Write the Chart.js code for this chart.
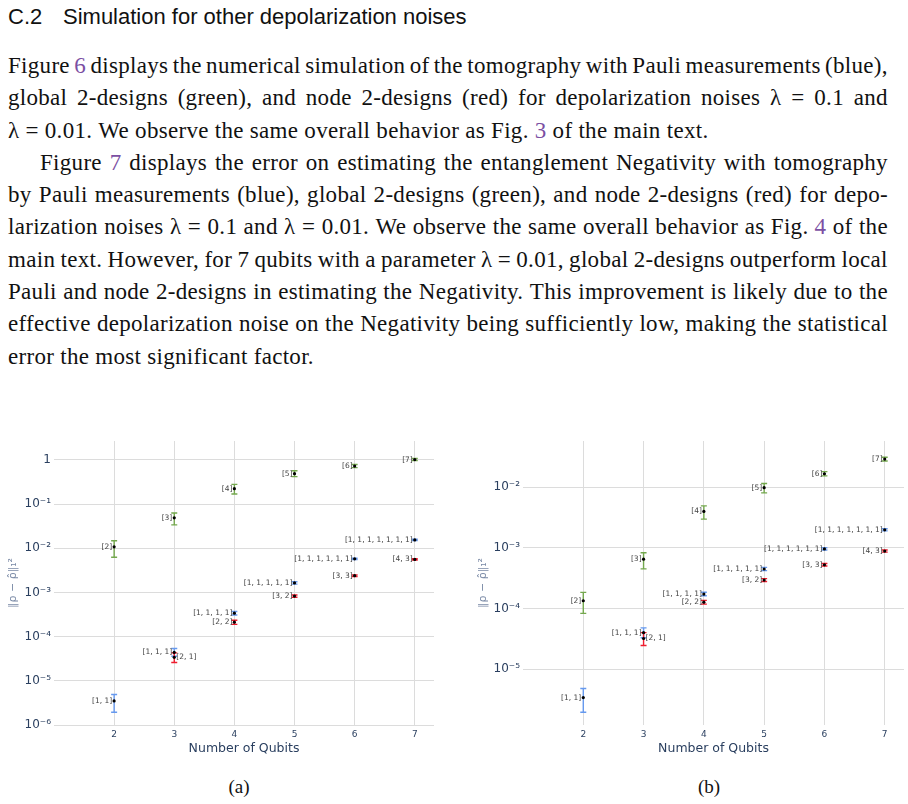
<!DOCTYPE html>
<html>
<head>
<meta charset="utf-8">
<script src="https://cdn.jsdelivr.net/npm/chart.js@4.4.1/dist/chart.umd.min.js"></script>
<style>
  html, body { margin: 0; padding: 0; background: #fff; }
  body { width: 908px; height: 804px; position: relative; overflow: hidden; }
  h3 { position: absolute; left: 8px; top: 4px; margin: 0; font: 400 22px 'Liberation Sans', sans-serif; color: #111; }
  h3 span { display: inline-block; width: 55px; }
  #text { position: absolute; left: 8px; top: 50px; width: 880px; font: 23px 'Liberation Serif', serif; letter-spacing: 0.3px; color: #111; line-height: 32.3px; }
  .ln { display: flex; justify-content: space-between; white-space: nowrap; height: 32.3px; }
  .ln.last { display: block; }
  .ind { padding-left: 32px; }
  .ref { color: #7b4fa3; }
  canvas { position: absolute; top: 436px; }
  .cap { position: absolute; top: 776px; width: 100px; text-align: center; font: 19px 'Liberation Serif', serif; color: #111; }
</style>
</head>
<body>
<h3><span>C.2</span>Simulation for other depolarization noises</h3>
<div id="text"></div>
<canvas id="chartA" width="460" height="330" style="left:0px"></canvas>
<canvas id="chartB" width="448" height="330" style="left:460px"></canvas>
<div class="cap" style="left:189px">(a)</div>
<div class="cap" style="left:659px">(b)</div>
<script>
// Texte : une ligne par entrée, j = justifiée, l = dernière ligne, i = retrait
const lines = [
  ['j', 'Figure {6} displays the numerical simulation of the tomography with Pauli measurements (blue),'],
  ['j', 'global 2-designs (green), and node 2-designs (red) for depolarization noises λ = 0.1 and'],
  ['l', 'λ = 0.01. We observe the same overall behavior as Fig.\u00a0{3} of the main text.'],
  ['ji', 'Figure {7} displays the error on estimating the entanglement Negativity with tomography'],
  ['j', 'by Pauli measurements (blue), global 2-designs (green), and node 2-designs (red) for depo-'],
  ['j', 'larization noises λ = 0.1 and λ = 0.01. We observe the same overall behavior as Fig.\u00a0{4} of the'],
  ['j', 'main text. However, for 7 qubits with a parameter λ = 0.01, global 2-designs outperform local'],
  ['j', 'Pauli and node 2-designs in estimating the Negativity. This improvement is likely due to the'],
  ['j', 'effective depolarization noise on the Negativity being sufficiently low, making the statistical'],
  ['l', 'error the most significant factor.']
];
const textBox = document.getElementById('text');
lines.forEach(([kind, str]) => {
  const div = document.createElement('div');
  div.className = 'ln' + (kind.includes('l') ? ' last' : '') + (kind.includes('i') ? ' ind' : '');
  const html = w => w.replace(/\{(\d)\}/g, '<span class="ref">$1</span>');
  if (kind.includes('l')) {
    div.innerHTML = html(str);
  } else {
    div.innerHTML = str.split(' ').map(w => '<span>' + html(w) + '</span>').join('');
  }
  textBox.appendChild(div);
});

// Données
const qubits = [2, 3, 4, 5, 6, 7];
const nodeQubits = [3, 4, 5, 6, 7];
const globalLabels = ['[2]', '[3]', '[4]', '[5]', '[6]', '[7]'];
const pauliLabels = ['[1, 1]', '[1, 1, 1]', '[1, 1, 1, 1]', '[1, 1, 1, 1, 1]', '[1, 1, 1, 1, 1, 1]', '[1, 1, 1, 1, 1, 1, 1]'];
const nodeLabels = ['[2, 1]', '[2, 2]', '[3, 2]', '[3, 3]', '[4, 3]'];

// (a)
const globalA   = [0.0108, 0.049, 0.224, 0.49, 0.73, 1.02];
const globalAHi = [0.0149, 0.063, 0.28, 0.57, 0.79, 1.08];
const globalALo = [0.0063, 0.034, 0.17, 0.42, 0.67, 0.97];
const pauliA    = [3.5e-6, 4.4e-5, 3.4e-4, 1.65e-3, 5.8e-3, 0.0155];
const pauliAHi  = [4.9e-6, 5.4e-5, 3.7e-4, 1.75e-3, 6.0e-3, 0.016];
const pauliALo  = [1.95e-6, 3.6e-5, 3.1e-4, 1.55e-3, 5.6e-3, 0.015];
const nodeA     = [3.4e-5, 2.13e-4, 8.3e-4, 2.4e-3, 5.6e-3];
const nodeAHi   = [4.3e-5, 2.35e-4, 8.8e-4, 2.5e-3, 5.8e-3];
const nodeALo   = [2.6e-5, 1.9e-4, 7.8e-4, 2.3e-3, 5.4e-3];
const yTicksA = [1e-6, 1e-5, 1e-4, 1e-3, 1e-2, 1e-1, 1];

// (b)
const globalB   = [1.34e-4, 6.5e-4, 3.98e-3, 9.8e-3, 0.0166, 0.029];
const globalBHi = [1.84e-4, 8.3e-4, 4.9e-3, 0.0115, 0.018, 0.031];
const globalBLo = [8.3e-5, 4.5e-4, 2.97e-3, 8.05e-3, 0.0153, 0.027];
const pauliB    = [3.4e-6, 4.0e-5, 1.73e-4, 4.47e-4, 9.6e-4, 1.98e-3];
const pauliBHi  = [4.8e-6, 4.8e-5, 1.85e-4, 4.75e-4, 1.0e-3, 2.06e-3];
const pauliBLo  = [1.95e-6, 3.3e-5, 1.62e-4, 4.2e-4, 9.2e-4, 1.9e-3];
const nodeB     = [3.2e-5, 1.27e-4, 2.94e-4, 5.25e-4, 8.83e-4];
const nodeBHi   = [4.0e-5, 1.36e-4, 3.1e-4, 5.5e-4, 9.2e-4];
const nodeBLo   = [2.45e-5, 1.18e-4, 2.78e-4, 5.0e-4, 8.5e-4];
const yTicksB = [1e-5, 1e-4, 1e-3, 1e-2];

const GREEN = '#74a84e', BLUE = '#6699ee', RED = '#ee1c2e';

function series(xs, ys, lo, hi, labels, color, sides) {
  return {
    data: xs.map((x, i) => ({ x: x, y: ys[i] })),
    lo: lo, hi: hi, labels: labels, barColor: color, sides: sides,
    pointRadius: 1.6, pointBackgroundColor: '#000', pointBorderWidth: 0
  };
}

// Barres d'erreur + étiquettes
const errorBars = {
  id: 'errorBars',
  beforeDatasetsDraw(chart) {
    const ctx = chart.ctx, y = chart.scales.y;
    chart.data.datasets.forEach((ds, i) => {
      ctx.save();
      ctx.strokeStyle = ds.barColor;
      ctx.lineWidth = 1.4;
      chart.getDatasetMeta(i).data.forEach((pt, j) => {
        const top = y.getPixelForValue(ds.hi[j]);
        const bot = y.getPixelForValue(ds.lo[j]);
        ctx.beginPath();
        ctx.moveTo(pt.x, top); ctx.lineTo(pt.x, bot);
        ctx.moveTo(pt.x - 3, top); ctx.lineTo(pt.x + 3, top);
        ctx.moveTo(pt.x - 3, bot); ctx.lineTo(pt.x + 3, bot);
        ctx.stroke();
      });
      ctx.restore();
    });
  },
  afterDatasetsDraw(chart) {
    const ctx = chart.ctx;
    ctx.save();
    ctx.font = '7.5px "DejaVu Sans"';
    ctx.fillStyle = '#444';
    ctx.textBaseline = 'middle';
    chart.data.datasets.forEach((ds, i) => {
      chart.getDatasetMeta(i).data.forEach((pt, j) => {
        const side = ds.sides ? ds.sides[j] : 'left';
        if (side === 'right') {
          ctx.textAlign = 'left';
          ctx.fillText(ds.labels[j], pt.x + 2, pt.y);
        } else {
          ctx.textAlign = 'right';
          ctx.fillText(ds.labels[j], pt.x - 2, pt.y);
        }
      });
    });
    ctx.restore();
  }
};

const sup = { '-': '⁻', '0': '⁰', '1': '¹', '2': '²', '3': '³', '4': '⁴', '5': '⁵', '6': '⁶', '7': '⁷', '8': '⁸', '9': '⁹' };
function pow10(v) {
  const e = Math.round(Math.log10(v));
  if (e === 0) return '1';
  return '10' + String(e).split('').map(c => sup[c]).join('');
}

function makeChart(id, datasets, yMin, yMax, yTicks, yWidth, padRight, titlePad) {
  return new Chart(document.getElementById(id), {
    type: 'scatter',
    data: { datasets: datasets },
    options: {
      responsive: false,
      animation: false,
      layout: { padding: { top: 5, right: padRight, left: 0, bottom: 0 } },
      plugins: { legend: { display: false }, tooltip: { enabled: false } },
      scales: {
        x: {
          type: 'linear', min: 1, max: 7.32,
          afterBuildTicks: ax => { ax.ticks = qubits.map(v => ({ value: v })); },
          afterFit: ax => { ax.height = 41; ax.paddingLeft = 0; ax.paddingRight = 0; },
          grid: { color: '#dcdcdc', drawTicks: false },
          border: { display: false },
          ticks: { padding: 4, color: '#2a3f5f', font: { family: 'DejaVu Sans', size: 9 } },
          title: { display: true, text: 'Number of Qubits', color: '#2a3f5f',
                   font: { family: 'DejaVu Sans', size: 12.5 }, padding: { top: 0, bottom: 10 } }
        },
        y: {
          type: 'logarithmic', min: yMin, max: yMax,
          afterBuildTicks: ax => { ax.ticks = yTicks.map(v => ({ value: v })); },
          afterFit: ax => { ax.width = yWidth; ax.paddingTop = 0; ax.paddingBottom = 0; },
          grid: { color: '#dcdcdc', drawTicks: false },
          border: { display: false },
          ticks: { padding: 3, color: '#2a3f5f', font: { family: 'DejaVu Sans', size: 12 }, callback: v => pow10(v) },
          title: { display: true, text: '‖ρ − ρ̂‖₁²', color: '#7a8aa6',
                   font: { family: 'DejaVu Sans', size: 11 }, padding: { top: titlePad, bottom: 0 } }
        }
      }
    },
    plugins: [errorBars]
  });
}

makeChart('chartA', [
  series(qubits, globalA, globalALo, globalAHi, globalLabels, GREEN),
  series(qubits, pauliA, pauliALo, pauliAHi, pauliLabels, BLUE),
  series(nodeQubits, nodeA, nodeALo, nodeAHi, nodeLabels, RED, ['right', 'left', 'left', 'left', 'left'])
], 1e-6, Math.pow(10, 0.43), yTicksA, 54, 26, 7);

makeChart('chartB', [
  series(qubits, globalB, globalBLo, globalBHi, globalLabels, GREEN),
  series(qubits, pauliB, pauliBLo, pauliBHi, pauliLabels, BLUE),
  series(nodeQubits, nodeB, nodeBLo, nodeBHi, nodeLabels, RED, ['right', 'left', 'left', 'left', 'left'])
], Math.pow(10, -5.92), Math.pow(10, -1.24), yTicksB, 63, 4, 17);
</script>
</body>
</html>
